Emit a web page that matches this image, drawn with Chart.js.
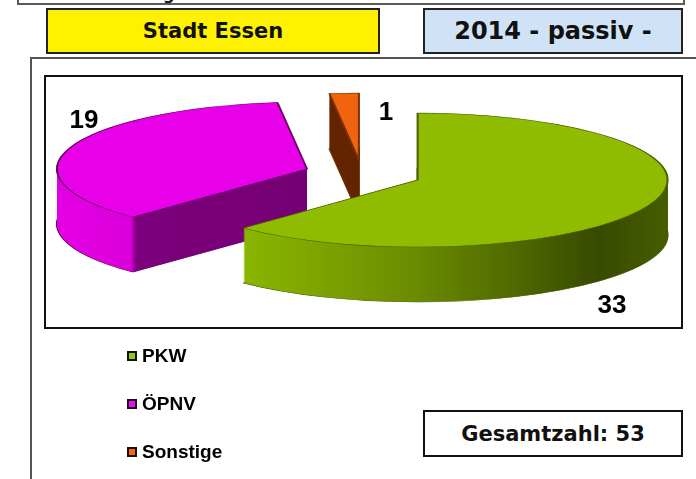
<!DOCTYPE html>
<html>
<head>
<meta charset="utf-8">
<script src="https://cdn.jsdelivr.net/npm/chart.js@4.4.1/dist/chart.umd.min.js"></script>
<style>
html,body{margin:0;padding:0;background:#fff;overflow:hidden;width:696px;height:479px;}
#wrap{position:relative;width:696px;height:479px;overflow:hidden;background:#fff;}
.abs{position:absolute;box-sizing:border-box;}
.hdr{display:flex;align-items:center;justify-content:center;font-family:'DejaVu Sans',sans-serif;font-weight:bold;color:#111;}
.lbl{position:absolute;font-family:'Liberation Sans',Arial,sans-serif;font-weight:bold;font-size:26px;line-height:26px;color:#000;transform:translateX(-50%);white-space:nowrap;}
.leg{position:absolute;left:127px;font-family:'Liberation Sans',Arial,sans-serif;font-weight:bold;font-size:19px;line-height:19px;color:#000;white-space:nowrap;}
.leg .sw{position:absolute;left:0;width:10px;height:10px;box-sizing:border-box;border:2px solid #111;}
.leg .tx{position:absolute;left:15px;top:0;}
</style>
</head>
<body>
<div id="wrap">
  <div class="abs" style="left:17px;top:-30px;width:668px;height:35px;border:2px solid #5a5a5a;"></div>
  <div class="abs" style="left:163px;top:-13px;font-family:'DejaVu Sans',sans-serif;font-weight:bold;font-size:16px;line-height:16px;color:#111;">g</div>
  <div class="abs hdr" style="left:46px;top:8px;width:334px;height:46px;background:#fff200;border:2px solid #222;font-size:21px;">Stadt Essen</div>
  <div class="abs hdr" style="left:423px;top:8px;width:260px;height:46px;background:#cfe2f6;border:2px solid #222;font-size:24px;">2014 - passiv -</div>
  <div class="abs" style="left:30px;top:57px;width:700px;height:500px;border-left:2px solid #555;border-top:2px solid #555;"></div>
  <div class="abs" style="left:44px;top:75px;width:639px;height:254px;border:2px solid #111;"></div>
  <canvas id="c" width="696" height="479" style="position:absolute;left:0;top:0;width:696px;height:479px;"></canvas>
  <div id="labels"></div>
  <div id="legend"></div>
  <div class="abs hdr" id="total" style="left:423px;top:410px;width:260px;height:47px;border:2px solid #111;font-size:21px;background:#fff;"></div>
</div>
<script>
// ---- data ----
const categories = ['PKW', 'ÖPNV', 'Sonstige'];
const values = [33, 19, 1];
const totalLabel = 'Gesamtzahl';

// ---- styles ----
const topColors = ['#8fbc00', '#e800e8', '#f06410'];
const borderColors = ['#4a5e00', '#6a006a', '#7a3000'];
const legendColors = ['#99cc00', '#ff00ff', '#ff6600'];
const explode = [60, 58, 52];          // radial explosion per slice
const labelPos = [[612, 313], [84, 128], [386, 120]]; // value label anchor (x center, baseline)
const SQUASH = 0.268;
const DEPTH = 205;
const RADIUS = 250;

function sideFill(ctx, i, el) {
  const x0 = el.x - RADIUS, x1 = el.x + RADIUS;
  const g = ctx.createLinearGradient(x0, 0, x1, 0);
  if (i === 0) {
    g.addColorStop(0, '#8cb800');
    g.addColorStop(0.145, '#8ab600');
    g.addColorStop(0.27, '#80a800');
    g.addColorStop(0.5, '#6a8a00');
    g.addColorStop(0.7, '#4f6800');
    g.addColorStop(0.86, '#384a00');
    g.addColorStop(1, '#465c00');
  } else if (i === 1) {
    g.addColorStop(0, '#e400e4');
    g.addColorStop(0.148, '#da00da');
    g.addColorStop(0.158, '#7c007c');
    g.addColorStop(1, '#6a006a');
  } else {
    g.addColorStop(0, '#6a2800');
    g.addColorStop(1, '#5a2000');
  }
  return g;
}

function drawArcAs(el, ctx, over) {
  const proxy = Object.create(el);
  proxy.options = Object.assign({}, el.options, over);
  el.draw.call(proxy, ctx);
}

const pseudo3d = {
  id: 'pseudo3d',
  beforeDatasetDraw(chart, args) {
    const ctx = chart.ctx;
    const els = args.meta.data;
    if (!els.length) return false;
    const cy = els[0].y;
    ctx.save();
    ctx.translate(0, cy);
    ctx.scale(1, SQUASH);
    ctx.translate(0, -cy);
    for (let i = els.length - 1; i >= 0; i--) {
      const el = els[i];
      const h = (el.startAngle + el.endAngle) / 2;
      const ex = Math.cos(h) * explode[i];
      const ey = Math.sin(h) * explode[i];
      const fill = sideFill(ctx, i, el);
      for (let d = DEPTH; d > 0; d -= 2) {
        ctx.save();
        ctx.translate(ex, ey + d);
        drawArcAs(el, ctx, {
          backgroundColor: fill,
          borderWidth: d === DEPTH ? 2 : 0,
          borderColor: borderColors[i]
        });
        ctx.restore();
      }
      ctx.save();
      ctx.translate(ex, ey);
      drawArcAs(el, ctx, {});
      ctx.restore();
    }
    ctx.restore();
    return false;
  }
};

new Chart(document.getElementById('c'), {
  type: 'pie',
  data: {
    labels: categories,
    datasets: [{
      data: values,
      backgroundColor: topColors,
      borderColor: borderColors,
      borderWidth: 2,
      offset: 0,
      clip: false
    }]
  },
  options: {
    responsive: false,
    animation: false,
    events: [],
    radius: RADIUS,
    layout: { padding: { left: 28, right: 0, top: 0, bottom: 131 } },
    plugins: { legend: { display: false }, tooltip: { enabled: false } }
  },
  plugins: [pseudo3d]
});

// value labels
const labelsDiv = document.getElementById('labels');
values.forEach((v, i) => {
  const d = document.createElement('div');
  d.className = 'lbl';
  d.textContent = String(v);
  d.style.left = labelPos[i][0] + 'px';
  d.style.top = (labelPos[i][1] - 22) + 'px';
  labelsDiv.appendChild(d);
});

// legend
const legendDiv = document.getElementById('legend');
const legBaselines = [362, 410, 458];
categories.forEach((c, i) => {
  const row = document.createElement('div');
  row.className = 'leg';
  row.style.top = (legBaselines[i] - 16) + 'px';
  const sw = document.createElement('div');
  sw.className = 'sw';
  sw.style.background = legendColors[i];
  sw.style.top = '5px';
  const tx = document.createElement('div');
  tx.className = 'tx';
  tx.textContent = c;
  row.appendChild(sw);
  row.appendChild(tx);
  legendDiv.appendChild(row);
});

document.getElementById('total').textContent =
  totalLabel + ': ' + values.reduce((a, b) => a + b, 0);
</script>
</body>
</html>
